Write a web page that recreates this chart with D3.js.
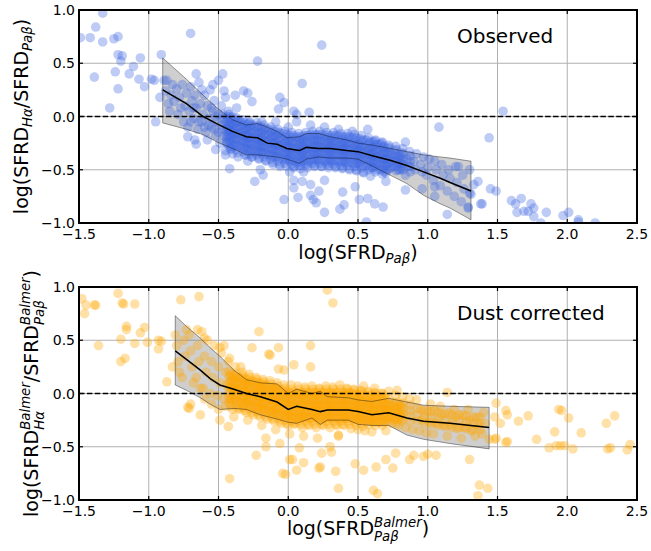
<!DOCTYPE html>
<html><head><meta charset="utf-8">
<script src="https://cdn.jsdelivr.net/npm/d3@7"></script>
<style>body{margin:0;background:#fff}text{font-family:"DejaVu Sans",sans-serif;fill:#000}</style>
</head><body>
<svg id="c" width="651" height="551"></svg>
<script>
// ---------- DATA ----------
const xTicks = [-1.5,-1.0,-0.5,0.0,0.5,1.0,1.5,2.0,2.5];
const yTicks = [-1.0,-0.5,0.0,0.5,1.0];

// Observed panel: running median and 1-sigma band
const obsMedX = [-0.90,-0.73,-0.61,-0.51,-0.40,-0.30,-0.22,-0.15,-0.08,-0.01,0.08,0.13,0.22,0.30,0.42,0.50,0.61,0.73,0.85,0.97,1.09,1.16,1.31];
const obsMedY = [0.25,0.12,0.0,-0.07,-0.14,-0.19,-0.20,-0.25,-0.26,-0.30,-0.32,-0.29,-0.30,-0.30,-0.32,-0.33,-0.37,-0.41,-0.46,-0.52,-0.58,-0.62,-0.70];
const obsHi   = [0.55,0.35,0.20,0.08,-0.03,-0.08,-0.065,-0.10,-0.14,-0.20,-0.19,-0.16,-0.16,-0.19,-0.22,-0.25,-0.27,-0.30,-0.33,-0.36,-0.38,-0.39,-0.42];
const obsLo   = [-0.06,-0.12,-0.17,-0.24,-0.30,-0.36,-0.36,-0.37,-0.38,-0.40,-0.44,-0.40,-0.38,-0.39,-0.39,-0.40,-0.47,-0.55,-0.63,-0.74,-0.82,-0.86,-0.97];

// Dust-corrected panel
const corMedX = [-0.81,-0.73,-0.63,-0.56,-0.49,-0.39,-0.30,-0.20,-0.08,0.0,0.06,0.17,0.23,0.28,0.43,0.50,0.60,0.72,0.85,0.97,1.16,1.44];
const corMedY = [0.40,0.32,0.22,0.14,0.08,0.04,0.0,-0.03,-0.08,-0.15,-0.12,-0.15,-0.17,-0.155,-0.155,-0.17,-0.20,-0.18,-0.23,-0.26,-0.28,-0.32];
const corHi   = [0.73,0.63,0.52,0.43,0.35,0.22,0.13,0.10,0.09,0.0,0.04,0.0,0.02,-0.03,-0.04,-0.06,-0.075,-0.045,-0.08,-0.11,-0.12,-0.13];
const corLo   = [0.08,0.03,-0.04,-0.10,-0.15,-0.14,-0.15,-0.20,-0.24,-0.27,-0.28,-0.23,-0.29,-0.25,-0.25,-0.29,-0.30,-0.30,-0.39,-0.43,-0.47,-0.52];

// Observed scatter points [x, y] (sparse / outlying galaxies)
const obsPoints = [
[-1.33,0.97],[-1.49,0.74],[-1.42,0.74],[-1.38,0.84],[-1.33,0.70],[-1.25,0.73],[-1.22,0.75],[-1.22,0.58],[-1.19,0.57],[-1.20,0.52],
[-1.06,0.55],[-1.11,0.47],[-1.24,0.42],[-1.39,0.37],[-1.14,0.40],[-1.07,0.35],[-1.03,0.28],[-1.22,0.26],[-0.98,0.35],[-0.96,0.34],
[-1.28,0.08],[-0.91,0.58],[-0.70,0.78],[-0.95,-0.05],[-0.89,0.34],[-0.87,0.34],[-0.92,0.18],
[-0.66,0.40],[-0.47,0.40],[-0.50,0.34],[-0.54,0.30],[-0.46,0.24],[-0.38,0.20],[-0.32,0.24],[-0.29,0.22],[-0.26,0.14],[-0.22,0.52],
[-0.42,-0.49],[-0.24,-0.61],[-0.20,-0.50],[-0.18,-0.55],[-0.45,-0.36],[-0.52,-0.31],[-0.72,-0.19],[-0.66,-0.26],[-0.67,-0.22],
[0.24,0.67],[0.10,0.31],[-0.06,0.18],[-0.03,0.13],[-0.07,0.07],[0.04,0.05],[0.15,0.04],[0.06,0.02],[0.57,-0.12],[1.08,-0.10],[0.84,-0.24],
[0.04,-0.60],[0.10,-0.61],[0.04,-0.67],[0.16,-0.64],[-0.03,-0.78],[0.07,-0.76],[0.16,-0.74],[0.18,-0.78],[0.20,-0.81],[0.22,-0.70],
[0.26,-0.60],[0.26,-0.90],[0.39,-0.71],[0.37,-0.87],[0.40,-0.83],[0.48,-0.66],[0.51,-0.78],[0.57,-0.77],[0.62,-0.82],[0.68,-0.85],
[0.56,-0.99],[0.70,-0.61],[0.84,-0.69],[0.96,-0.68],[1.05,-0.66],[1.05,-0.75],[1.14,-0.92],
[1.54,0.05],[1.44,-0.20],[1.45,-0.68],[1.49,-0.70],[1.38,-0.82],[1.39,-0.82],[1.60,-0.79],[1.63,-0.82],[1.67,-0.77],[1.64,-0.90],
[1.69,-0.89],[1.72,-0.89],[1.74,-0.82],[1.76,-0.86],[1.76,-0.94],[1.85,-0.90],[1.81,-1.0],[1.97,-0.93],[2.01,-0.90],[2.08,-0.97],
[2.08,-0.99],[2.20,-1.0],[1.36,-0.61],[1.33,-0.64],[1.30,-0.72],[1.29,-0.85],[1.22,-0.47],
[-0.88,0.24],[-0.86,0.12],[-0.85,0.05],[-0.83,0.30],[-0.82,0.14],[-0.80,0.26],[-0.79,0.02],[-0.78,0.18],[-0.76,0.30],[-0.75,-0.05],
[-0.74,0.10],[-0.73,0.22],[-0.72,-0.10],[-0.71,0.05],[-0.70,0.28],[-0.69,0.15],[-0.68,-0.02],[-0.67,0.20],[-0.66,0.08],[-0.65,-0.12],
[-0.64,0.32],[-0.63,0.12],[-0.62,-0.05],[-0.61,0.02],[-0.60,0.20],[-0.59,-0.15],[-0.58,0.10],[-0.57,-0.02],[-0.56,0.25],[-0.55,-0.10],
[-0.54,0.05],[-0.53,0.15],[-0.52,-0.18],[-0.51,-0.05],[-0.50,0.02],[-0.49,-0.25],[-0.48,0.10],[-0.47,-0.12],[-0.46,-0.02],[-0.45,0.18],
[-0.44,-0.20],[-0.43,0.05],[-0.42,-0.08],[-0.41,-0.30],[-0.84,0.20],[-0.77,0.08],[-0.70,-0.05],[-0.62,0.25],[-0.58,-0.22],[-0.53,-0.12],
[-0.57,-0.08],[-0.60,-0.10],[-0.55,0.08],[-0.50,-0.15],[-0.48,-0.08],[-0.52,0.00],[-0.64,-0.05],[-0.68,0.08],
[-0.45,-0.05],[-0.43,-0.12],[-0.46,-0.18],[-0.44,-0.25],[-0.47,0.02],[-0.45,-0.32],[-0.37,0.08],[-0.35,-0.05],[-0.36,-0.38],
[-0.29,-0.42],[-0.28,-0.06],[-0.26,-0.38],[-0.21,-0.40],[-0.19,-0.05],[-0.16,-0.42],[-0.11,-0.45],[-0.09,-0.05],[-0.06,-0.47],
[0.01,-0.52],[0.00,-0.10],[0.04,-0.47],[0.06,-0.05],[0.09,-0.46],[0.11,-0.52],[0.14,-0.45],[0.16,-0.08],[0.19,-0.46],
[0.24,-0.47],[0.26,-0.10],[0.29,-0.46],[0.34,-0.47],[0.36,-0.12],[0.39,-0.48],[0.44,-0.50],[0.46,-0.14],[0.49,-0.51],
[0.54,-0.53],[0.59,-0.56],[0.62,-0.23],[0.67,-0.25],[0.72,-0.27],[0.77,-0.28],[0.82,-0.30],[0.84,-0.55],
[0.85,-0.40],[0.86,-0.47],[0.87,-0.33],[0.90,-0.42],[0.91,-0.50],[0.92,-0.35],[0.95,-0.45],[0.96,-0.52],[0.97,-0.38],
[1.00,-0.48],[1.01,-0.40],[0.99,-0.55],[1.05,-0.42],[1.06,-0.50],[1.04,-0.60],[1.10,-0.45],[1.11,-0.55],[1.09,-0.65],
[1.15,-0.50],[1.16,-0.58],[1.14,-0.70],[1.20,-0.47],[1.21,-0.62],[1.19,-0.75],[1.25,-0.55],[1.26,-0.68],[1.24,-0.80],
[1.30,-0.50],[1.31,-0.73],[1.29,-0.86]
];

// Observed dense core: columns of [x, [y values]]
const obsCore = [
[-0.425,[0.02,-0.03,-0.08,-0.13,-0.18,-0.23,-0.28]],[-0.375,[-0.01,-0.06,-0.11,-0.16,-0.21,-0.26,-0.31]],
[-0.325,[-0.03,-0.08,-0.13,-0.18,-0.23,-0.28,-0.33]],[-0.275,[-0.05,-0.10,-0.15,-0.20,-0.25,-0.30,-0.35]],
[-0.225,[-0.06,-0.11,-0.16,-0.21,-0.26,-0.31,-0.36]],[-0.175,[-0.08,-0.13,-0.18,-0.23,-0.28,-0.33,-0.38]],
[-0.125,[-0.10,-0.15,-0.20,-0.25,-0.30,-0.35,-0.40]],[-0.075,[-0.12,-0.17,-0.22,-0.27,-0.32,-0.37,-0.42]],
[-0.025,[-0.14,-0.19,-0.24,-0.29,-0.34,-0.39,-0.44]],[0.025,[-0.15,-0.20,-0.25,-0.30,-0.35,-0.40,-0.45]],
[0.075,[-0.16,-0.21,-0.26,-0.31,-0.36,-0.41,-0.46]],[0.125,[-0.15,-0.20,-0.25,-0.30,-0.35,-0.40,-0.45]],
[0.175,[-0.14,-0.19,-0.24,-0.29,-0.34,-0.39,-0.44]],[0.225,[-0.14,-0.19,-0.24,-0.29,-0.34,-0.39,-0.44]],
[0.275,[-0.15,-0.20,-0.25,-0.30,-0.35,-0.40,-0.45]],[0.325,[-0.15,-0.20,-0.25,-0.30,-0.35,-0.40,-0.45]],
[0.375,[-0.16,-0.21,-0.26,-0.31,-0.36,-0.41,-0.46]],[0.425,[-0.16,-0.21,-0.26,-0.31,-0.36,-0.41,-0.46]],
[0.475,[-0.17,-0.22,-0.27,-0.32,-0.37,-0.42,-0.47]],[0.525,[-0.18,-0.23,-0.28,-0.33,-0.38,-0.43,-0.48]],
[0.575,[-0.20,-0.25,-0.30,-0.35,-0.40,-0.45,-0.50]],[0.625,[-0.22,-0.27,-0.32,-0.37,-0.42,-0.47,-0.52]],
[0.675,[-0.24,-0.29,-0.34,-0.39,-0.44,-0.49,-0.54]],[0.725,[-0.29,-0.34,-0.39,-0.44,-0.49]],
[0.775,[-0.31,-0.36,-0.41,-0.46,-0.51]],[0.825,[-0.35,-0.40,-0.45,-0.50]],[0.875,[-0.37,-0.42,-0.47,-0.52]],
[-0.44,[0.00,-0.05,-0.10,-0.14,-0.19,-0.24]],[-0.39,[-0.03,-0.08,-0.13,-0.17,-0.22,-0.27]],
[-0.34,[-0.05,-0.10,-0.15,-0.19,-0.24,-0.29]],[-0.29,[-0.07,-0.12,-0.17,-0.21,-0.26,-0.31]],
[-0.24,[-0.09,-0.14,-0.19,-0.23,-0.28,-0.33]],[-0.19,[-0.10,-0.15,-0.20,-0.24,-0.29,-0.34]],
[-0.14,[-0.12,-0.17,-0.22,-0.26,-0.31,-0.36]],[-0.09,[-0.14,-0.19,-0.24,-0.28,-0.33,-0.38]],
[-0.04,[-0.16,-0.21,-0.26,-0.30,-0.35,-0.40]],[0.01,[-0.18,-0.23,-0.28,-0.32,-0.37,-0.42]],
[0.06,[-0.19,-0.24,-0.29,-0.33,-0.38,-0.43]],[0.11,[-0.18,-0.23,-0.28,-0.32,-0.37,-0.42]],
[0.16,[-0.17,-0.22,-0.27,-0.31,-0.36,-0.41]],[0.21,[-0.17,-0.22,-0.27,-0.31,-0.36,-0.41]],
[0.26,[-0.18,-0.23,-0.28,-0.32,-0.37,-0.42]],[0.31,[-0.18,-0.23,-0.28,-0.32,-0.37,-0.42]],
[0.36,[-0.18,-0.23,-0.28,-0.32,-0.37,-0.42]],[0.41,[-0.19,-0.24,-0.29,-0.33,-0.38,-0.43]],
[0.46,[-0.20,-0.25,-0.30,-0.34,-0.39,-0.44]],[0.51,[-0.21,-0.26,-0.31,-0.35,-0.40,-0.45]],
[0.56,[-0.22,-0.27,-0.32,-0.36,-0.41,-0.46]],[0.61,[-0.24,-0.29,-0.34,-0.38,-0.43,-0.48]],
[0.66,[-0.26,-0.31,-0.36,-0.40,-0.45,-0.50]],[0.71,[-0.30,-0.35,-0.40,-0.45,-0.50]],
[0.76,[-0.32,-0.37,-0.42,-0.47]],[0.81,[-0.34,-0.39,-0.44,-0.49]],
[-0.40,[-0.08,-0.15,-0.20,-0.28,0.00,-0.35]],[-0.30,[-0.12,-0.18,-0.24,-0.30,-0.36]],
[-0.20,[-0.15,-0.22,-0.28,-0.34]],[-0.10,[-0.18,-0.25,-0.31,-0.38]],[0.00,[-0.22,-0.28,-0.34,-0.40]],
[0.10,[-0.22,-0.28,-0.34,-0.40]],[0.20,[-0.22,-0.28,-0.34,-0.40]],[0.30,[-0.22,-0.28,-0.34,-0.40]],
[0.40,[-0.24,-0.30,-0.36,-0.42]],[0.50,[-0.26,-0.32,-0.38,-0.44]],[0.60,[-0.29,-0.35,-0.42,-0.48]],
[0.70,[-0.33,-0.40,-0.46,-0.53]],[0.80,[-0.37,-0.44,-0.50]],
[-0.4125,[-0.01,-0.07,-0.13,-0.19,-0.25,-0.31]],[-0.3625,[-0.04,-0.10,-0.16,-0.22,-0.28,-0.34]],
[-0.3125,[-0.06,-0.12,-0.18,-0.24,-0.30,-0.36]],[-0.2625,[-0.08,-0.14,-0.20,-0.26,-0.32,-0.38]],
[-0.2125,[-0.09,-0.15,-0.21,-0.27,-0.33,-0.39]],[-0.1625,[-0.11,-0.17,-0.23,-0.29,-0.35,-0.41]],
[-0.1125,[-0.13,-0.19,-0.25,-0.31,-0.37,-0.43]],[-0.0625,[-0.15,-0.21,-0.27,-0.33,-0.39,-0.45]],
[-0.0125,[-0.17,-0.23,-0.29,-0.35,-0.41,-0.47]],[0.0375,[-0.18,-0.24,-0.30,-0.36,-0.42,-0.48]],
[0.0875,[-0.19,-0.25,-0.31,-0.37,-0.43,-0.49]],[0.1375,[-0.18,-0.24,-0.30,-0.36,-0.42,-0.48]],
[0.1875,[-0.17,-0.23,-0.29,-0.35,-0.41,-0.47]],[0.2375,[-0.17,-0.23,-0.29,-0.35,-0.41,-0.47]],
[0.2875,[-0.18,-0.24,-0.30,-0.36,-0.42,-0.48]],[0.3375,[-0.18,-0.24,-0.30,-0.36,-0.42,-0.48]],
[0.3875,[-0.19,-0.25,-0.31,-0.37,-0.43,-0.49]],[0.4375,[-0.19,-0.25,-0.31,-0.37,-0.43,-0.49]],
[0.4875,[-0.20,-0.26,-0.32,-0.38,-0.44,-0.50]],[0.5375,[-0.22,-0.28,-0.34,-0.40,-0.46,-0.52]],
[0.5875,[-0.24,-0.30,-0.36,-0.42,-0.48]],[0.6375,[-0.26,-0.32,-0.38,-0.44,-0.50]],
[0.6875,[-0.28,-0.34,-0.40,-0.46,-0.52]],[0.7375,[-0.36,-0.42,-0.48]],[0.7875,[-0.38,-0.44,-0.50]]
];

// Dust-corrected scatter points [x, y]
const corPoints = [
[-1.48,0.89],[-1.45,0.83],[-1.39,0.83],[-1.38,0.83],[-1.46,0.75],[-1.22,0.94],[-1.19,0.85],[-1.18,0.84],[-1.10,0.84],[-1.16,0.63],
[-1.16,0.60],[-1.03,0.62],[-1.06,0.57],[-1.20,0.51],[-1.36,0.45],[-1.10,0.47],[-1.01,0.48],[-0.93,0.50],[-0.91,0.49],[-0.93,0.42],
[-1.17,0.33],[-1.20,0.30],[-0.87,0.11],[-0.83,0.25],[-0.77,0.88],[-0.64,0.91],[-0.72,-0.13],[-0.71,-0.14],[-0.63,-0.20],[-0.49,-0.25],
[-0.43,-0.31],[-0.23,-0.58],[-0.42,-0.80],[-0.21,0.58],[-0.26,0.43],[-0.46,0.45],[-0.49,0.43],[-0.42,0.33],[-0.34,0.25],[-0.62,0.58],[-0.60,0.52],
[-0.13,0.36],[-0.07,0.43],[-0.04,-0.75],[0.06,-0.72],[0.01,-0.62],[0.11,-0.65],[-0.16,-0.42],[-0.06,-0.47],[0.23,-0.69],[0.24,-0.56],
[0.28,0.97],[0.32,0.85],[-0.14,0.37],[0.16,0.45],[0.16,0.25],[0.04,0.27],[-0.07,0.23],[-0.03,0.22],[0.54,0.07],[0.62,0.05],[0.78,0.03],
[0.03,-0.62],[-0.02,-0.76],[0.22,-0.70],[0.30,-0.50],[0.31,-0.55],[0.34,-0.73],[0.36,-0.89],[0.48,-0.66],[0.54,-0.72],[0.63,-0.69],
[0.61,-0.91],[0.64,-0.94],[0.70,-0.62],[0.75,-0.70],[0.77,-0.56],[0.87,-0.62],[0.90,-0.58],[0.97,-0.59],[1.00,-0.57],[1.06,-0.58],
[0.08,-0.51],[-0.16,-0.50],[0.36,-0.39],
[1.49,-0.09],[1.56,-0.16],[1.57,-0.20],[1.48,-0.22],[1.52,-0.28],[1.65,-0.26],[1.72,-0.21],[1.49,-0.42],[1.48,-0.43],[1.44,-0.43],
[1.57,-0.45],[1.56,-0.46],[1.78,-0.43],[1.30,-0.62],[1.37,-0.86],[1.43,-0.89],[1.36,-0.96],[1.94,-0.15],[1.96,-0.16],[2.01,-0.23],
[1.91,-0.36],[2.10,-0.37],[2.34,-0.21],[2.28,-0.28],[1.87,-0.51],[1.92,-0.49],[1.95,-0.49],[1.98,-0.49],[2.04,-0.52],[2.29,-0.52],
[2.31,-0.51],[2.43,-0.53],[2.45,-0.48],[1.14,0.01],
[-0.80,0.45],[-0.79,0.30],[-0.81,0.55],[-0.78,0.20],[-0.75,0.50],[-0.74,0.35],[-0.76,0.15],[-0.73,0.60],
[-0.70,0.40],[-0.69,0.25],[-0.71,0.55],[-0.68,0.10],[-0.70,-0.10],[-0.65,0.45],[-0.64,0.30],[-0.66,0.15],[-0.63,0.05],[-0.65,0.60],
[-0.60,0.35],[-0.59,0.20],[-0.61,0.05],[-0.58,0.50],[-0.60,-0.05],[-0.55,0.30],[-0.54,0.15],[-0.56,0.00],[-0.53,0.45],[-0.55,-0.10],
[-0.50,0.25],[-0.49,0.10],[-0.51,-0.02],[-0.48,0.38],[-0.50,-0.15],[-0.45,0.20],[-0.44,0.08],[-0.46,-0.05],[-0.43,0.30],[-0.45,-0.12],
[-0.40,0.15],[-0.39,0.05],[-0.41,-0.05],[-0.38,0.25],[-0.40,-0.15],[-0.39,-0.22],[-0.33,0.20],[-0.35,-0.15],[-0.28,0.18],[-0.30,-0.18],
[-0.29,-0.25],[-0.23,0.15],[-0.25,-0.20],[-0.18,0.13],[-0.20,-0.22],[-0.19,-0.30],[-0.13,0.12],[-0.15,-0.24],[-0.08,0.10],[-0.10,-0.26],
[-0.09,-0.34],[-0.03,0.08],[-0.05,-0.28],[0.02,0.08],[0.00,-0.30],[0.01,-0.38],[0.07,0.07],[0.05,-0.28],[0.12,0.06],[0.10,-0.32],
[0.11,-0.40],[0.17,0.07],[0.15,-0.30],[0.22,0.05],[0.20,-0.32],[0.21,-0.42],[0.27,0.07],[0.25,-0.30],[0.32,0.06],[0.30,-0.32],
[0.37,0.08],[0.35,-0.30],[0.36,-0.40],[0.42,0.05],[0.40,-0.30],[0.47,0.04],[0.45,-0.33],[0.52,0.03],[0.50,-0.34],[0.57,0.02],
[0.55,-0.35],[0.62,0.01],[0.60,-0.36],[0.67,0.00],[0.72,0.02],[0.70,-0.35],[0.77,-0.02],[0.74,-0.28],[0.82,-0.03],[0.79,-0.30],
[0.87,-0.05],[0.84,-0.32],[0.92,-0.06],[0.89,-0.34],[0.95,-0.15],[0.96,-0.25],[0.94,-0.35],[1.00,-0.17],[1.01,-0.27],[0.99,-0.37],
[1.02,-0.10],[1.05,-0.16],[1.06,-0.28],[1.04,-0.38],[1.10,-0.20],[1.11,-0.30],[1.09,-0.12],[1.15,-0.18],[1.16,-0.30],[1.14,-0.40],
[1.20,-0.22],[1.21,-0.33],[1.19,-0.15],[1.25,-0.20],[1.26,-0.32],[1.24,-0.42],[1.30,-0.25],[1.31,-0.35],[1.29,-0.15],
[1.35,-0.22],[1.36,-0.30],[1.34,-0.40],[1.40,-0.18],[1.41,-0.28],[1.39,-0.38]
];

// Dust-corrected dense core: columns of [x, [y values]]
const corCore = [
[-0.425,[0.21,0.16,0.11,0.06,0.01,-0.04,-0.09]],[-0.375,[0.19,0.14,0.09,0.04,-0.01,-0.06,-0.11]],
[-0.325,[0.17,0.12,0.07,0.02,-0.03,-0.08,-0.13]],[-0.275,[0.15,0.10,0.05,0.00,-0.05,-0.10,-0.15]],
[-0.225,[0.13,0.08,0.03,-0.02,-0.07,-0.12,-0.17]],[-0.175,[0.11,0.06,0.01,-0.04,-0.09,-0.14,-0.19]],
[-0.125,[0.09,0.04,-0.01,-0.06,-0.11,-0.16,-0.21]],[-0.075,[0.07,0.02,-0.03,-0.08,-0.13,-0.18,-0.23]],
[-0.025,[0.05,0.00,-0.05,-0.10,-0.15,-0.20,-0.25]],[0.025,[0.04,-0.01,-0.06,-0.11,-0.16,-0.21,-0.26]],
[0.075,[0.04,-0.01,-0.06,-0.11,-0.16,-0.21,-0.26]],[0.125,[0.04,-0.01,-0.06,-0.11,-0.16,-0.21,-0.26]],
[0.175,[0.04,-0.01,-0.06,-0.11,-0.16,-0.21,-0.26]],[0.225,[0.04,-0.01,-0.06,-0.11,-0.16,-0.21,-0.26]],
[0.275,[0.04,-0.01,-0.06,-0.11,-0.16,-0.21,-0.26]],[0.325,[0.04,-0.01,-0.06,-0.11,-0.16,-0.21,-0.26]],
[0.375,[0.04,-0.01,-0.06,-0.11,-0.16,-0.21,-0.26]],[0.425,[0.04,-0.01,-0.06,-0.11,-0.16,-0.21,-0.26]],
[0.475,[0.03,-0.02,-0.07,-0.12,-0.17,-0.22,-0.27]],[0.525,[0.02,-0.03,-0.08,-0.13,-0.18,-0.23,-0.28]],
[0.575,[0.01,-0.04,-0.09,-0.14,-0.19,-0.24,-0.29]],[0.625,[0.00,-0.05,-0.10,-0.15,-0.20,-0.25,-0.30]],
[0.675,[0.00,-0.05,-0.10,-0.15,-0.20,-0.25,-0.30]],[0.725,[-0.06,-0.11,-0.16,-0.21,-0.26]],
[0.775,[-0.08,-0.13,-0.18,-0.23,-0.28]],[0.825,[-0.09,-0.14,-0.19,-0.24]],[0.875,[-0.11,-0.16,-0.21,-0.26]],
[0.925,[-0.14,-0.20,-0.26]],[0.975,[-0.16,-0.22,-0.28]],[1.025,[-0.17,-0.23,-0.29]],[1.075,[-0.18,-0.24,-0.30]],
[1.125,[-0.19,-0.25,-0.31]],[1.175,[-0.20,-0.26,-0.32]],[1.225,[-0.20,-0.26,-0.32]],[1.275,[-0.21,-0.27,-0.33]],
[1.325,[-0.22,-0.28,-0.34]],[1.375,[-0.22,-0.28,-0.34]],
[-0.39,[0.17,0.12,0.07,0.03,-0.02,-0.07]],[-0.34,[0.15,0.10,0.05,0.01,-0.04,-0.09]],
[-0.29,[0.13,0.08,0.03,-0.01,-0.06,-0.11]],[-0.24,[0.11,0.06,0.01,-0.03,-0.08,-0.13]],
[-0.19,[0.09,0.04,-0.01,-0.05,-0.10,-0.15]],[-0.14,[0.07,0.02,-0.03,-0.07,-0.12,-0.17]],
[-0.09,[0.05,0.00,-0.05,-0.09,-0.14,-0.19]],[-0.04,[0.03,-0.02,-0.07,-0.11,-0.16,-0.21]],
[0.01,[0.01,-0.04,-0.09,-0.13,-0.18,-0.23]],[0.06,[0.01,-0.04,-0.09,-0.13,-0.18,-0.23]],
[0.11,[0.01,-0.04,-0.09,-0.13,-0.18,-0.23]],[0.16,[0.01,-0.04,-0.09,-0.13,-0.18,-0.23]],
[0.21,[0.01,-0.04,-0.09,-0.13,-0.18,-0.23]],[0.26,[0.01,-0.04,-0.09,-0.13,-0.18,-0.23]],
[0.31,[0.01,-0.04,-0.09,-0.13,-0.18,-0.23]],[0.36,[0.01,-0.04,-0.09,-0.13,-0.18,-0.23]],
[0.41,[0.01,-0.04,-0.09,-0.13,-0.18,-0.23]],[0.46,[0.00,-0.05,-0.10,-0.14,-0.19,-0.24]],
[0.51,[-0.01,-0.06,-0.11,-0.15,-0.20,-0.25]],[0.56,[-0.02,-0.07,-0.12,-0.16,-0.21,-0.26]],
[0.61,[-0.03,-0.08,-0.13,-0.17,-0.22,-0.27]],[0.66,[-0.03,-0.08,-0.13,-0.17,-0.22,-0.27]],
[0.71,[-0.09,-0.14,-0.18,-0.23]],[0.76,[-0.10,-0.15,-0.19,-0.24]],[0.81,[-0.12,-0.17,-0.21,-0.26]],
[-0.30,[0.10,0.00,-0.08]],[-0.20,[0.06,-0.04,-0.12]],[-0.10,[0.04,-0.06,-0.16]],[0.00,[0.00,-0.10,-0.20]],
[0.10,[-0.02,-0.12,-0.22]],[0.20,[-0.02,-0.12,-0.22]],[0.30,[-0.02,-0.12,-0.22]],[0.40,[-0.02,-0.12,-0.22]],
[0.50,[-0.04,-0.14,-0.24]],[0.60,[-0.06,-0.16,-0.26]],[0.70,[-0.05,-0.15,-0.25]],[0.80,[-0.10,-0.20]],
[-0.4125,[0.18,0.12,0.06,0.00,-0.06,-0.12]],[-0.3625,[0.16,0.10,0.04,-0.02,-0.08,-0.14]],
[-0.3125,[0.14,0.08,0.02,-0.04,-0.10,-0.16]],[-0.2625,[0.12,0.06,0.00,-0.06,-0.12,-0.18]],
[-0.2125,[0.10,0.04,-0.02,-0.08,-0.14,-0.20]],[-0.1625,[0.08,0.02,-0.04,-0.10,-0.16,-0.22]],
[-0.1125,[0.06,0.00,-0.06,-0.12,-0.18,-0.24]],[-0.0625,[0.04,-0.02,-0.08,-0.14,-0.20,-0.26]],
[-0.0125,[0.02,-0.04,-0.10,-0.16,-0.22,-0.28]],[0.0375,[0.01,-0.05,-0.11,-0.17,-0.23,-0.29]],
[0.0875,[0.01,-0.05,-0.11,-0.17,-0.23,-0.29]],[0.1375,[0.01,-0.05,-0.11,-0.17,-0.23,-0.29]],
[0.1875,[0.01,-0.05,-0.11,-0.17,-0.23,-0.29]],[0.2375,[0.01,-0.05,-0.11,-0.17,-0.23,-0.29]],
[0.2875,[0.01,-0.05,-0.11,-0.17,-0.23,-0.29]],[0.3375,[0.01,-0.05,-0.11,-0.17,-0.23,-0.29]],
[0.3875,[0.01,-0.05,-0.11,-0.17,-0.23,-0.29]],[0.4375,[0.01,-0.05,-0.11,-0.17,-0.23,-0.29]],
[0.4875,[0.00,-0.06,-0.12,-0.18,-0.24,-0.30]],[0.5375,[-0.01,-0.07,-0.13,-0.19,-0.25,-0.31]],
[0.5875,[-0.02,-0.08,-0.14,-0.20,-0.26]],[0.6375,[-0.03,-0.09,-0.15,-0.21,-0.27]],
[0.6875,[-0.03,-0.09,-0.15,-0.21,-0.27]],[0.7375,[-0.11,-0.17,-0.23]],[0.7875,[-0.12,-0.18,-0.24]]
];

// ---------- DRAW ----------
const svg = d3.select('#c');
svg.append('rect').attr('width',651).attr('height',551).attr('fill','#fff');
const L = 79, R = 637;

function rich(g, parts, fs) {
  const inner = g.append('g');
  let x = 0;
  parts.forEach(p => {
    if (p.t !== undefined) {
      const t = inner.append('text').attr('x', x).attr('y', 0).style('font-size', fs + 'px').text(p.t);
      x += t.node().getComputedTextLength();
    } else {
      let w = 0;
      if (p.sup) {
        const t = inner.append('text').attr('x', x).attr('y', -0.42 * fs)
          .style('font-size', (0.7 * fs) + 'px').style('font-style', 'italic').text(p.sup);
        w = Math.max(w, t.node().getComputedTextLength());
      }
      if (p.sub) {
        const t = inner.append('text').attr('x', x).attr('y', (p.sup ? 0.3 : 0.2) * fs)
          .style('font-size', (0.7 * fs) + 'px').style('font-style', 'italic').text(p.sub);
        w = Math.max(w, t.node().getComputedTextLength());
      }
      x += w;
    }
  });
  inner.attr('transform', `translate(${-x / 2},0)`);
}

function panel(T, B, pts, core, color, mx, my, hi, lo, title, xlab, ylab, ylabX) {
  const x = d3.scaleLinear().domain([-1.5, 2.5]).range([L, R]);
  const y = d3.scaleLinear().domain([-1, 1]).range([B, T]);
  const g = svg.append('g');
  const clipId = 'clip' + T;
  g.append('clipPath').attr('id', clipId).append('rect').attr('x', L).attr('y', T).attr('width', R - L).attr('height', B - T);

  g.append('g').selectAll('line').data(xTicks).join('line')
    .attr('x1', d => x(d)).attr('x2', d => x(d)).attr('y1', T).attr('y2', B)
    .attr('stroke', '#b0b0b0').attr('stroke-width', 1);
  g.append('g').selectAll('line').data(yTicks).join('line')
    .attr('y1', d => y(d)).attr('y2', d => y(d)).attr('x1', L).attr('x2', R)
    .attr('stroke', '#b0b0b0').attr('stroke-width', 1);

  const plot = g.append('g').attr('clip-path', `url(#${clipId})`);
  const band = mx.map((v, i) => ({ x: v, hi: hi[i], lo: lo[i], m: my[i] }));
  plot.append('path').datum(band)
    .attr('d', d3.area().x(d => x(d.x)).y0(d => y(d.lo)).y1(d => y(d.hi)))
    .attr('fill', '#808080').attr('fill-opacity', 0.38).attr('stroke', 'none');

  const all = pts.concat(core.flatMap(c => c[1].map(v => [c[0], v])));
  plot.append('g').selectAll('circle').data(all).join('circle')
    .attr('cx', d => x(d[0])).attr('cy', d => y(d[1])).attr('r', 4.8)
    .attr('fill', color).attr('fill-opacity', 0.35);

  const edge = p => p.attr('fill', 'none').attr('stroke', '#000').attr('stroke-opacity', 0.4).attr('stroke-width', 1);
  edge(plot.append('path').datum(band).attr('d', d3.line().x(d => x(d.x)).y(d => y(d.hi))));
  edge(plot.append('path').datum(band).attr('d', d3.line().x(d => x(d.x)).y(d => y(d.lo))));
  edge(plot.append('line').attr('x1', x(mx[0])).attr('x2', x(mx[0])).attr('y1', y(hi[0])).attr('y2', y(lo[0])));
  const n = mx.length - 1;
  edge(plot.append('line').attr('x1', x(mx[n])).attr('x2', x(mx[n])).attr('y1', y(hi[n])).attr('y2', y(lo[n])));
  plot.append('path').datum(band)
    .attr('d', d3.line().x(d => x(d.x)).y(d => y(d.m)))
    .attr('fill', 'none').attr('stroke', '#000').attr('stroke-width', 1.5);

  plot.append('line').attr('x1', L).attr('x2', R).attr('y1', y(0)).attr('y2', y(0))
    .attr('stroke', '#000').attr('stroke-width', 1.5).attr('stroke-dasharray', '5.5,2.4');

  const tk = g.append('g').attr('stroke', '#000').attr('stroke-width', 1.2);
  xTicks.forEach(v => {
    tk.append('line').attr('x1', x(v)).attr('x2', x(v)).attr('y1', B).attr('y2', B - 4);
    tk.append('line').attr('x1', x(v)).attr('x2', x(v)).attr('y1', T).attr('y2', T + 4);
  });
  yTicks.forEach(v => {
    tk.append('line').attr('y1', y(v)).attr('y2', y(v)).attr('x1', L).attr('x2', L + 4);
    tk.append('line').attr('y1', y(v)).attr('y2', y(v)).attr('x1', R).attr('x2', R - 4);
  });
  g.append('rect').attr('x', L).attr('y', T).attr('width', R - L).attr('height', B - T)
    .attr('fill', 'none').attr('stroke', '#000').attr('stroke-width', 2);

  const fmt = v => (v < 0 ? '\u2212' : '') + Math.abs(v).toFixed(1);
  g.append('g').selectAll('text').data(xTicks).join('text')
    .attr('x', d => x(d)).attr('y', B + 15.5).attr('text-anchor', 'middle')
    .style('font-size', '14px').text(fmt);
  g.append('g').selectAll('text').data(yTicks).join('text')
    .attr('x', L - 4).attr('y', d => y(d) + 5).attr('text-anchor', 'end')
    .style('font-size', '14px').text(fmt);

  g.append('text').attr('x', 457).attr('y', T + 33).style('font-size', '20px').text(title);

  rich(g.append('g').attr('transform', `translate(${(L + R) / 2},${B + xlab.dy})`), xlab.parts, 19);
  rich(g.append('g').attr('transform', `translate(${ylabX},${(T + B) / 2}) rotate(-90)`), ylab, 19);
}

panel(10, 223, obsPoints, obsCore, '#4169e1', obsMedX, obsMedY, obsHi, obsLo, 'Observed',
  { dy: 36, parts: [{ t: 'log(SFRD' }, { sub: 'Pa\u03b2' }, { t: ')' }] },
  [{ t: 'log(SFRD' }, { sub: 'H\u03b1' }, { t: '/SFRD' }, { sub: 'Pa\u03b2' }, { t: ')' }], 28);

panel(287, 500, corPoints, corCore, '#ffa500', corMedX, corMedY, corHi, corLo, 'Dust corrected',
  { dy: 35, parts: [{ t: 'log(SFRD' }, { sup: 'Balmer', sub: 'Pa\u03b2' }, { t: ')' }] },
  [{ t: 'log(SFRD' }, { sup: 'Balmer', sub: 'H\u03b1' }, { t: '/SFRD' }, { sup: 'Balmer', sub: 'Pa\u03b2' }, { t: ')' }], 38);
</script>
</body></html>
